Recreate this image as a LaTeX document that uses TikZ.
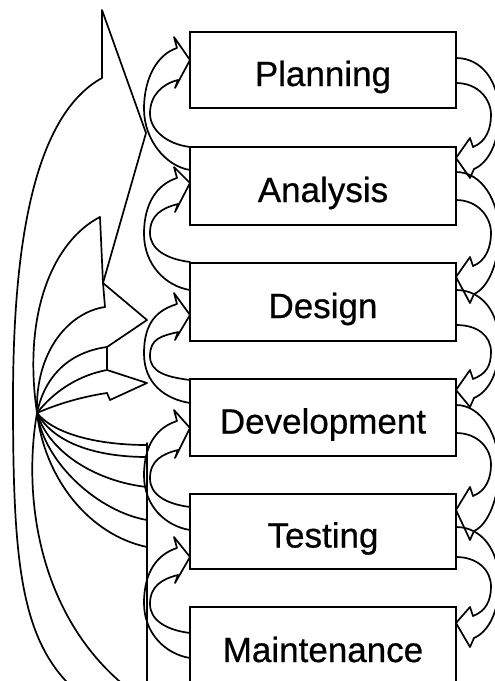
\documentclass[tikz,border=0pt]{standalone}
\usepackage{fontspec}
\setmainfont{Liberation Sans}
\newfontfamily\phasefont{Liberation Sans}[FakeBold=0.6]
\usetikzlibrary{calc}
\newcommand{\leftuturn}[5]{% #1 tip, #2 upper barb, #3 lower barb, #4 tail top, #5 tail lower
  \pgfmathsetmacro{\lauy}{#2+11}%
  \pgfmathsetmacro{\laly}{#3-8}%
  \pgfmathsetmacro{\lamo}{(\lauy+#5)/2}%
  \pgfmathsetmacro{\lami}{(\laly+#4)/2}%
  \draw[arr] (190,#5) .. controls (165,#5-4) and (144,\lamo+30) .. (144,\lamo)
     .. controls (144,\lamo-32) and (158,\lauy+6) .. (177,\lauy) -- (174,#2) -- (190,#1) -- (175,#3) -- (178,\laly)
     .. controls (162,\laly+4) and (150,\lami-18) .. (150,\lami) .. controls (150,\lami+16) and (166,#4-3) .. (190,#4);
}
\newcommand{\rightuturn}[5]{% #1 tail upper, #2 tail lower, #3 upper barb, #4 tip, #5 lower barb
  \pgfmathsetmacro{\rauy}{#3+9}%
  \pgfmathsetmacro{\raly}{#5-9}%
  \pgfmathsetmacro{\ramo}{(#1+\raly)/2}%
  \pgfmathsetmacro{\rami}{(#2+\rauy)/2}%
  \draw[arr] (456,#1) .. controls (482,#1) and (499,\ramo-32) .. (499,\ramo)
     .. controls (499,\ramo+30) and (488,\raly-6) .. (474,\raly) -- (470,#5) -- (456,#4) -- (470,#3) -- (473,\rauy)
     .. controls (486,\rauy-5) and (491,\rami+14) .. (491,\rami) .. controls (491,\rami-16) and (478,#2) .. (456,#2);
}
\begin{document}
\begin{tikzpicture}[x=1pt,y=-1pt,
  box/.style={draw, line width=2.8pt, minimum width=266pt, text height=32pt, text depth=0pt,
    inner sep=0pt, font=\phasefont\fontsize{35}{40}\selectfont},
  arr/.style={line width=1.7pt, line join=round, line cap=round}]
\useasboundingbox (0,0) rectangle (495,681);
\begin{scope}
\clip (0,0) rectangle (495,681);
% phase boxes
\node[box, minimum height=76pt] (P) at (323,70) {Planning};
\node[box, minimum height=78pt] (A) at (323,186) {Analysis};
\node[box, minimum height=78pt] (D) at (323,302) {Design};
\node[box, minimum height=77pt] (V) at (323,417.5) {Development};
\node[box, minimum height=75pt] (T) at (323,531.5) {Testing};
\node[box, minimum height=78pt] (M) at (323,646) {Maintenance};
% left feedback arrows (lower box -> upper box)
\leftuturn{60}{37}{88}{147}{170}
\leftuturn{183}{167}{212}{262}{290}
\leftuturn{315}{293}{340}{380}{403}
\leftuturn{428}{410}{458}{507}{530}
\leftuturn{557}{537}{583}{633}{658}
% right forward arrows (upper box -> lower box)
\rightuturn{58}{83}{138}{158}{178}
\rightuturn{172}{200}{257}{277}{303}
\rightuturn{290}{325}{370}{390}{407}
\rightuturn{405}{433}{487}{510}{540}
\rightuturn{527}{557}{607}{623}{647}
% left fan of arrows
\coordinate (C) at (37,413);
\draw[arr] (102,78) -- (102,10) -- (146,133) -- (103,283) -- (147,320) -- (107,347) -- (107,370)
  -- (147,383) -- (110,400) -- (107,393);
\draw[arr] (100,217) -- (103,283) -- (105,307);
\draw[arr] (100,217) .. controls (55,240) and (22,310) .. (C);
\draw[arr] (105,307) .. controls (70,312) and (35,350) .. (C);
\draw[arr] (107,347) .. controls (70,352) and (45,375) .. (C);
\draw[arr] (107,370) .. controls (80,375) and (55,390) .. (C);
\draw[arr] (107,393) .. controls (80,397) and (55,405) .. (C);
\draw[arr] (C) .. controls (55,435) and (100,445) .. (147,445);
\draw[arr] (C) .. controls (55,445) and (100,457) .. (147,457);
\draw[arr] (C) .. controls (50,455) and (100,482) .. (147,487);
\draw[arr] (C) .. controls (45,465) and (100,512) .. (147,520);
\draw[arr] (C) .. controls (45,480) and (90,535) .. (147,547);
\draw[arr] (147,443) -- (147,690);
\draw[arr] (102,78) .. controls (35,115) and (13,240) .. (13,400) .. controls (13,560) and (20,640) .. (75,690);
\draw[arr] (C) .. controls (22,500) and (40,620) .. (130,690);
\end{scope}
\end{tikzpicture}
\end{document}
